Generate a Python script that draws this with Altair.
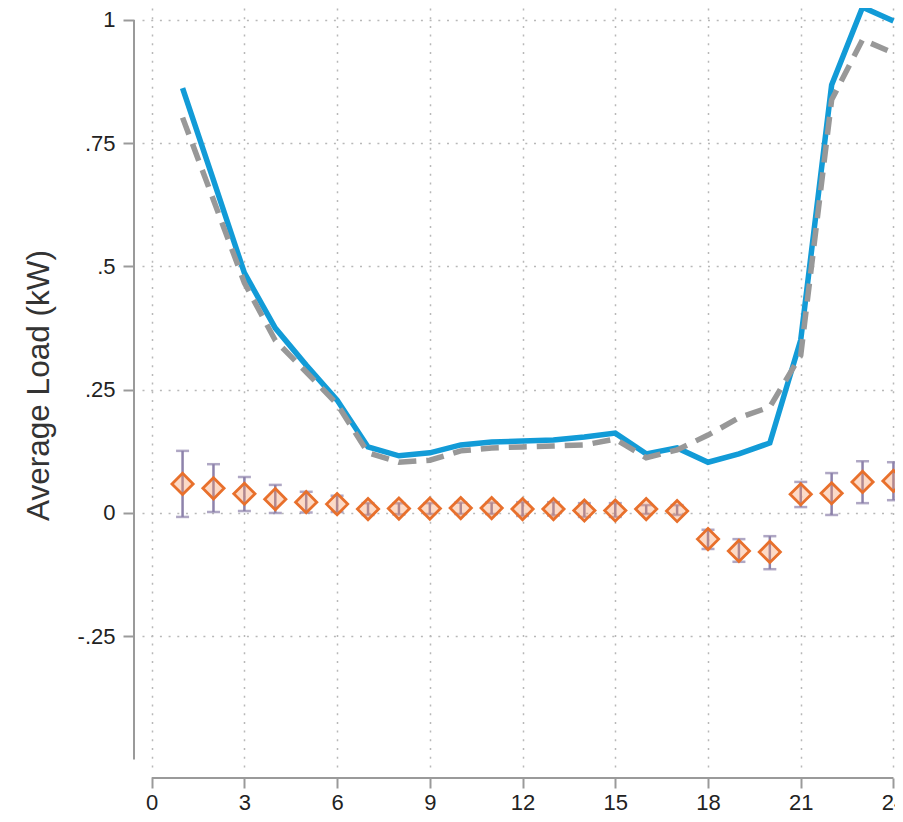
import altair as alt
import pandas as pd

# ---- data ----
hours = list(range(1, 25))
treated = [0.862, 0.675, 0.487, 0.375, 0.300, 0.229, 0.134, 0.116, 0.122, 0.138, 0.144, 0.146,
           0.148, 0.154, 0.162, 0.120, 0.132, 0.103, 0.120, 0.142, 0.351, 0.868, 1.026, 0.998]
control = [0.802, 0.635, 0.467, 0.350, 0.286, 0.221, 0.122, 0.103, 0.107, 0.126, 0.132, 0.134,
           0.136, 0.138, 0.150, 0.112, 0.128, 0.158, 0.193, 0.215, 0.320, 0.838, 0.960, 0.933]
effect = [0.059, 0.050, 0.039, 0.028, 0.022, 0.018, 0.008, 0.009, 0.009, 0.010, 0.010, 0.008,
          0.008, 0.005, 0.005, 0.008, 0.004, -0.053, -0.077, -0.079, 0.038, 0.040, 0.063, 0.065]
ci_high = [0.126, 0.099, 0.073, 0.057, 0.043, 0.035, 0.020, 0.020, 0.020, 0.021, 0.021, 0.022,
           0.022, 0.020, 0.020, 0.016, 0.016, -0.034, -0.053, -0.047, 0.063, 0.081, 0.105, 0.103]
ci_low = [-0.008, 0.002, 0.004, 0.000, 0.001, 0.002, -0.004, -0.003, -0.002, -0.002, -0.002, -0.006,
          -0.005, -0.008, -0.008, -0.002, -0.004, -0.073, -0.099, -0.114, 0.012, -0.004, 0.020, 0.026]

x_ticks = [0, 3, 6, 9, 12, 15, 18, 21, 24]
y_ticks = [-0.25, 0, 0.25, 0.5, 0.75, 1]
x_domain = [-0.3125, 24.05]
y_domain = [-0.5213, 1.0243]
x_axis_span = [0, 24]
y_axis_span = [-0.5, 1]
y_title = "Average Load (kW)"

df = pd.DataFrame({"hour": hours, "treated": treated, "control": control,
                   "effect": effect, "lo": ci_low, "hi": ci_high})
xspan = pd.DataFrame({"x": [x_axis_span[0]], "x2": [x_axis_span[1]]})
yspan = pd.DataFrame({"y": [y_axis_span[0]], "y2": [y_axis_span[1]]})

FONT = "Liberation Sans"
AXIS_GRAY = "#9a9a9a"
GRID = dict(grid=True, gridDash=[2, 6.7], gridColor="#b8b8b8", gridWidth=1.5)

xscale = alt.Scale(domain=x_domain, nice=False, zero=False, padding=0)
yscale = alt.Scale(domain=y_domain, nice=False, zero=False, padding=0)

x_axis = alt.Axis(values=x_ticks, format="d", domain=False, offset=8, tickSize=10,
                  tickColor=AXIS_GRAY, tickWidth=2, labelFont=FONT, labelFontSize=22,
                  labelColor="#222222", labelPadding=4, labelFlush=False, labelOverlap=False,
                  title=None, **GRID)
y_axis = alt.Axis(values=y_ticks, domain=False, offset=8, tickSize=11,
                  tickColor=AXIS_GRAY, tickWidth=2, labelFont=FONT, labelFontSize=22,
                  labelColor="#222222", labelPadding=8, labelFlush=False, labelOverlap=False,
                  labelExpr="(datum.value < 0 ? '-' : '') + replace(format(abs(datum.value), '~g'), '0.', '.')",
                  title=y_title, titleFont=FONT, titleFontSize=31.5, titleFontWeight="normal",
                  titleColor="#333333", titlePadding=22, titleY=377, **GRID)


def X(field):
    return alt.X(field, type="quantitative", scale=xscale, axis=x_axis)


def Y(field):
    return alt.Y(field, type="quantitative", scale=yscale, axis=y_axis)


base = alt.Chart(df)
ERR = "#8d82ab"

treated_line = base.mark_line(color="#129bd7", strokeWidth=5.5).encode(x=X("hour"), y=Y("treated"))
control_line = base.mark_line(color="#989898", strokeWidth=5.5, strokeDash=[18, 10]).encode(
    x=X("hour"), y=Y("control"))
err = base.mark_rule(color=ERR, strokeWidth=2.5).encode(x=X("hour"), y=Y("lo"), y2="hi")
cap_lo = base.mark_tick(color=ERR, orient="horizontal", size=13, thickness=2.5).encode(
    x=X("hour"), y=Y("lo"))
cap_hi = base.mark_tick(color=ERR, orient="horizontal", size=13, thickness=2.5).encode(
    x=X("hour"), y=Y("hi"))
points = base.mark_point(shape="diamond", size=450, filled=False, fill="#f5965e", fillOpacity=0.35,
                         stroke="#e8702c", strokeWidth=2.8, opacity=1).encode(
    x=X("hour"), y=Y("effect"))

x_domain_line = alt.Chart(xspan).mark_rule(color=AXIS_GRAY, strokeWidth=2).encode(
    x=X("x"), x2="x2", y=alt.value(770))
y_domain_line = alt.Chart(yspan).mark_rule(color=AXIS_GRAY, strokeWidth=2).encode(
    y=Y("y"), y2="y2", x=alt.value(-8))

chart = alt.layer(
    treated_line, control_line, err, cap_lo, cap_hi, points, x_domain_line, y_domain_line
).properties(
    width=753, height=762, autosize="none",
    padding={"left": 134, "top": 0, "right": 0, "bottom": 44},
).configure_view(stroke=None)

chart.save("out.html", embed_options={"renderer": "svg", "actions": False})
